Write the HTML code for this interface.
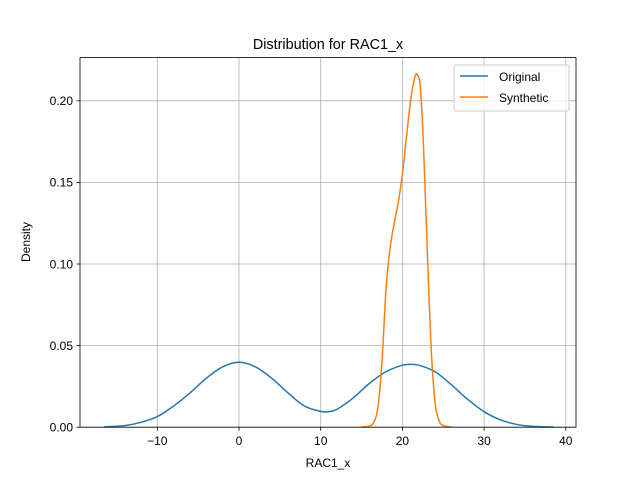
<!DOCTYPE html>
<html><head><meta charset="utf-8"><style>
body{margin:0;background:#fff}
svg{font-family:"Liberation Sans","DejaVu Sans",sans-serif}
</style></head><body>
<svg id="chart" width="640" height="480" viewBox="0 0 640 480" xmlns="http://www.w3.org/2000/svg">
<rect width="640" height="480" fill="#fff"/>
<g id="grid"></g>
<g id="curves"></g>
<rect x="80" y="57.6" width="496" height="369.6" fill="none" stroke="#000" stroke-width="0.8"/>
<g id="ticks"></g>
<text x="328" y="49" font-size="14.4" text-anchor="middle">Distribution for RAC1_x</text>
<text x="328" y="467" font-size="12" text-anchor="middle">RAC1_x</text>
<text x="30" y="242" font-size="12" text-anchor="middle" transform="rotate(-90 30 242)">Density</text>
<g>
<rect x="454" y="65" width="115" height="46" fill="#fff" fill-opacity="0.8" stroke="#ccc" rx="2"/>
<line x1="460" y1="76" x2="488" y2="76" stroke="#1f77b4" stroke-width="1.5"/>
<text x="499" y="81" font-size="12">Original</text>
<line x1="460" y1="97" x2="488" y2="97" stroke="#ff7f0e" stroke-width="1.5"/>
<text x="499" y="102" font-size="12">Synthetic</text>
</g>
</svg>
<script>
const xTicks=[-10,0,10,20,30,40];
const yTicks=[0,0.05,0.10,0.15,0.20];
const yTickLabels=["0.00","0.05","0.10","0.15","0.20"];
const origX=[-16.5,-14,-12,-10,-8,-6,-4,-2,0,2,4,6,8,10,11,12,14,16,18,20,21,22,24,26,28,30,32,34,36,38.5];
const origY=[0.0002,0.001,0.003,0.0065,0.013,0.021,0.030,0.037,0.0398,0.037,0.030,0.021,0.013,0.0097,0.0095,0.011,0.018,0.027,0.034,0.038,0.0385,0.038,0.034,0.026,0.017,0.0095,0.0045,0.0017,0.0005,0.0001];
const synX=[15,16,16.5,17,17.5,18,18.5,19,19.5,20,20.5,21,21.5,21.8,22.2,22.6,23,23.5,24,24.5,25,26];
const synY=[0,0.0008,0.003,0.012,0.04,0.085,0.11,0.125,0.138,0.155,0.178,0.2,0.214,0.216,0.208,0.17,0.115,0.05,0.015,0.004,0.001,0.0001];
const NS="http://www.w3.org/2000/svg";
const xs=v=>239+(v)*8.17;
const ys=v=>427.2-v*1632;
function mk(tag,attrs,parent){const e=document.createElementNS(NS,tag);for(const k in attrs)e.setAttribute(k,attrs[k]);parent.appendChild(e);return e;}
const grid=document.getElementById('grid'),ticks=document.getElementById('ticks'),curves=document.getElementById('curves');
xTicks.forEach(t=>{const x=xs(t);
const g=mk('line',{x1:x,x2:x,y1:57.6,y2:427.2,stroke:'#b0b0b0','stroke-width':0.8},grid);


mk('line',{x1:x,x2:x,y1:427.2,y2:430.7,stroke:'#000','stroke-width':0.8},ticks);
const l=mk('text',{x:x,y:445,'font-size':12,'text-anchor':'middle'},ticks);l.textContent=t<0?'\u2212'+(-t):t;

});
yTicks.forEach((t,i)=>{const y=ys(t);
const g=mk('line',{x1:80,x2:576,y1:y,y2:y,stroke:'#b0b0b0','stroke-width':0.8},grid);


mk('line',{x1:76.5,x2:80,y1:y,y2:y,stroke:'#000','stroke-width':0.8},ticks);
const l=mk('text',{x:73,y:y+4.3,'font-size':12,'text-anchor':'end'},ticks);l.textContent=yTickLabels[i];

});
function path(X,Y){const p=X.map((x,i)=>[xs(x),ys(Y[i])]);let d='M'+p[0][0]+','+p[0][1];
for(let i=0;i<p.length-1;i++){const p0=p[i-1]||p[i],p1=p[i],p2=p[i+1],p3=p[i+2]||p2;
d+=' C'+(p1[0]+(p2[0]-p0[0])/6)+','+(p1[1]+(p2[1]-p0[1])/6)+' '+(p2[0]-(p3[0]-p1[0])/6)+','+(p2[1]-(p3[1]-p1[1])/6)+' '+p2[0]+','+p2[1];}return d;}
const o=mk('path',{d:path(origX,origY),fill:'none',stroke:'#1f77b4','stroke-width':1.5},curves);


const s=mk('path',{d:path(synX,synY),fill:'none',stroke:'#ff7f0e','stroke-width':1.5},curves);


</script>
</body></html>
